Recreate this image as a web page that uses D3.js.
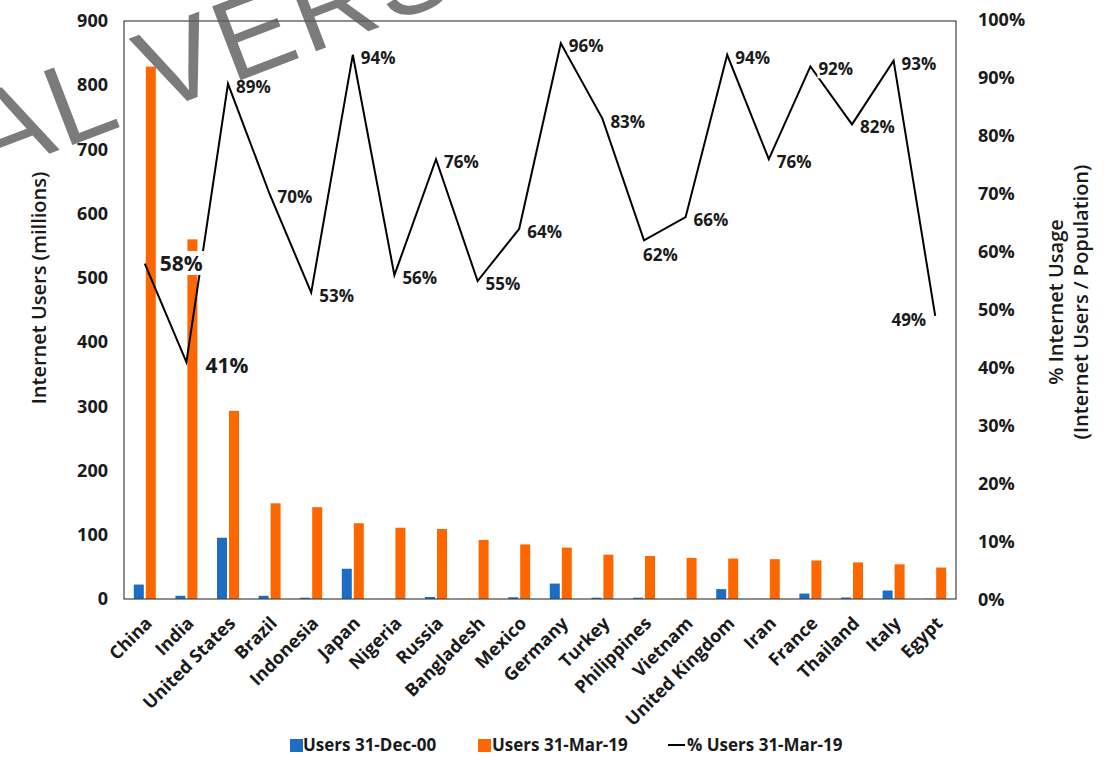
<!DOCTYPE html>
<html>
<head>
<meta charset="utf-8">
<script src="https://cdn.jsdelivr.net/npm/d3@7"></script>
<style>
  body { margin: 0; background: #fff; }
  text { font-family: "Open Sans", sans-serif; }
</style>
</head>
<body>
<script>
(function(){
'use strict';

// data
var countries = ['China', 'India', 'United States', 'Brazil', 'Indonesia', 'Japan', 'Nigeria', 'Russia',
                 'Bangladesh', 'Mexico', 'Germany', 'Turkey', 'Philippines', 'Vietnam', 'United Kingdom',
                 'Iran', 'France', 'Thailand', 'Italy', 'Egypt'];
var users2000 = [22.5, 5, 95.4, 5, 2, 47.1, 0.2, 3.1, 0.1, 2.7, 24.0, 2, 2, 0.2, 15.4, 0.25, 8.5, 2.3, 13.2, 0.45];
var users2019 = [829, 560, 293, 149, 143, 118, 111, 109, 92, 85, 80, 69, 67, 64, 63, 62, 60, 57, 54, 49];
var pctUsers = [58, 41, 89, 70, 53, 94, 56, 76, 55, 64, 96, 83, 62, 66, 94, 76, 92, 82, 93, 49];
var leftTicks = [0, 100, 200, 300, 400, 500, 600, 700, 800, 900];
var rightTicks = [0, 10, 20, 30, 40, 50, 60, 70, 80, 90, 100];
var seriesNames = ['Users 31-Dec-00', 'Users 31-Mar-19', '% Users 31-Mar-19'];

var W = 1104, H = 757;
var left = 124, right = 956, top = 21, bottom = 599;
var blue = '#1c6dc4', orange = '#fe6700';

var svg = d3.select('body').append('svg')
            .attr('width', W)
            .attr('height', H);

svg.append('rect').attr('width', W).attr('height', H).attr('fill', '#fff');

var x = d3.scaleBand().domain(countries).range([left, right]).paddingInner(0).paddingOuter(0);
var yL = d3.scaleLinear().domain([0, 900]).range([bottom, top]);
var yR = d3.scaleLinear().domain([0, 100]).range([bottom + 1, top - 1]);

var rows = countries.map(function(c, i){
  return {name: c, u00: users2000[i], u19: users2019[i], pct: pctUsers[i]};
});
function cx(d){ return x(d.name) + x.bandwidth() / 2; }

// bars
svg.append('g').selectAll('rect.b00').data(rows).enter().append('rect')
   .attr('x', function(d){ return cx(d) - 11; })
   .attr('width', 10)
   .attr('y', function(d){ return yL(d.u00); })
   .attr('height', function(d){ return bottom - yL(d.u00); })
   .attr('fill', blue);

svg.append('g').selectAll('rect.b19').data(rows).enter().append('rect')
   .attr('x', function(d){ return cx(d) + 1; })
   .attr('width', 10)
   .attr('y', function(d){ return yL(d.u19); })
   .attr('height', function(d){ return bottom - yL(d.u19); })
   .attr('fill', orange);

// plot frame
svg.append('rect')
   .attr('x', left).attr('y', top)
   .attr('width', right - left).attr('height', bottom - top)
   .attr('fill', 'none').attr('stroke', '#444').attr('stroke-width', 1.2);

// axes
var axL = svg.append('g').attr('transform', 'translate(' + left + ',0)')
   .call(d3.axisLeft(yL).tickValues(leftTicks).tickSize(0).tickPadding(16));
var axR = svg.append('g').attr('transform', 'translate(' + right + ',0)')
   .call(d3.axisRight(yR).tickValues(rightTicks).tickSize(0).tickPadding(22)
         .tickFormat(function(d){ return d + '%'; }));
[axL, axR].forEach(function(a){
  a.select('.domain').remove();
  a.selectAll('text').attr('font-size', 18).attr('font-weight', 'bold')
   .attr('fill', '#1a1a1a').style('font-family', '"Open Sans", sans-serif');
});

// x labels
svg.append('g').selectAll('text').data(rows).enter().append('text')
   .attr('transform', function(d){ return 'translate(' + (cx(d) + 4) + ',620) rotate(-45)'; })
   .attr('text-anchor', 'end')
   .attr('dy', '0.35em')
   .attr('font-size', 18).attr('font-weight', 'bold').attr('fill', '#1a1a1a')
   .text(function(d){ return d.name; });

// line
var line = d3.line().x(cx).y(function(d){ return yR(d.pct); });
svg.append('path').datum(rows)
   .attr('d', line).attr('fill', 'none')
   .attr('stroke', '#000').attr('stroke-width', 2).attr('stroke-linejoin', 'miter');

// line labels
var big = {China: 1, India: 1};
var lbl = svg.append('g').selectAll('g').data(rows).enter().append('g');
lbl.each(function(d){
  var g = d3.select(this);
  var px = cx(d), py = yR(d.pct);
  var t = g.append('text')
     .attr('font-weight', 'bold').attr('fill', '#1a1a1a')
     .attr('font-size', big[d.name] ? 21 : 17)
     .attr('dy', '0.35em')
     .text(d.pct + '%');
  if (d.name === 'Philippines') {
    t.attr('x', px - 1).attr('y', py + 15);
  } else if (d.name === 'Egypt') {
    t.attr('x', px - 9).attr('y', py + 4).attr('text-anchor', 'end');
  } else if (big[d.name]) {
    t.attr('x', px + (d.name === 'China' ? 15 : 19)).attr('y', py + (d.name === 'China' ? 0 : 3));
  } else {
    t.attr('x', px + 8).attr('y', py + 3);
  }
  var bb = t.node().getBBox();
  g.insert('rect', 'text')
   .attr('x', bb.x - 1).attr('y', bb.y + 2)
   .attr('width', bb.width + 2).attr('height', bb.height - 4)
   .attr('fill', '#fff');
});

// axis titles
svg.append('text')
   .attr('transform', 'translate(39,288) rotate(-90)')
   .attr('text-anchor', 'middle').attr('dy', '0.35em')
   .attr('font-size', 20).attr('font-weight', 600).attr('fill', '#1a1a1a')
   .text('Internet Users (millions)');

var rt = svg.append('text')
   .attr('transform', 'translate(1068,302) rotate(-90)')
   .attr('text-anchor', 'middle')
   .attr('font-size', 20).attr('font-weight', 600).attr('fill', '#1a1a1a');
rt.append('tspan').attr('x', 0).attr('dy', '-0.25em').text('% Internet Usage');
rt.append('tspan').attr('x', 0).attr('dy', '1.25em').text('(Internet Users / Population)');

// legend
var legend = svg.append('g').attr('font-size', 17).attr('font-weight', 'bold').attr('fill', '#1a1a1a');
var lx = [290, 478, 668];
legend.append('rect').attr('x', lx[0]).attr('y', 739).attr('width', 13).attr('height', 13).attr('fill', blue);
legend.append('text').attr('x', lx[0] + 13).attr('y', 745).attr('dy', '0.35em').text(seriesNames[0]);
legend.append('rect').attr('x', lx[1]).attr('y', 739).attr('width', 13).attr('height', 13).attr('fill', orange);
legend.append('text').attr('x', lx[1] + 14).attr('y', 745).attr('dy', '0.35em').text(seriesNames[1]);
legend.append('line').attr('x1', lx[2]).attr('x2', lx[2] + 17).attr('y1', 745).attr('y2', 745)
      .attr('stroke', '#000').attr('stroke-width', 2);
legend.append('text').attr('x', lx[2] + 19).attr('y', 745).attr('dy', '0.35em').text(seriesNames[2]);

// watermark
svg.append('text')
   .attr('transform', 'translate(-196,248) rotate(-21)')
   .attr('font-size', 115)
   .attr('letter-spacing', 4)
   .style('font-family', '"Liberation Sans", Arial, sans-serif')
   .attr('fill', '#5a5a5a').attr('fill-opacity', 0.8)
   .text('TRIAL VERSION');

})();
</script>
</body>
</html>
